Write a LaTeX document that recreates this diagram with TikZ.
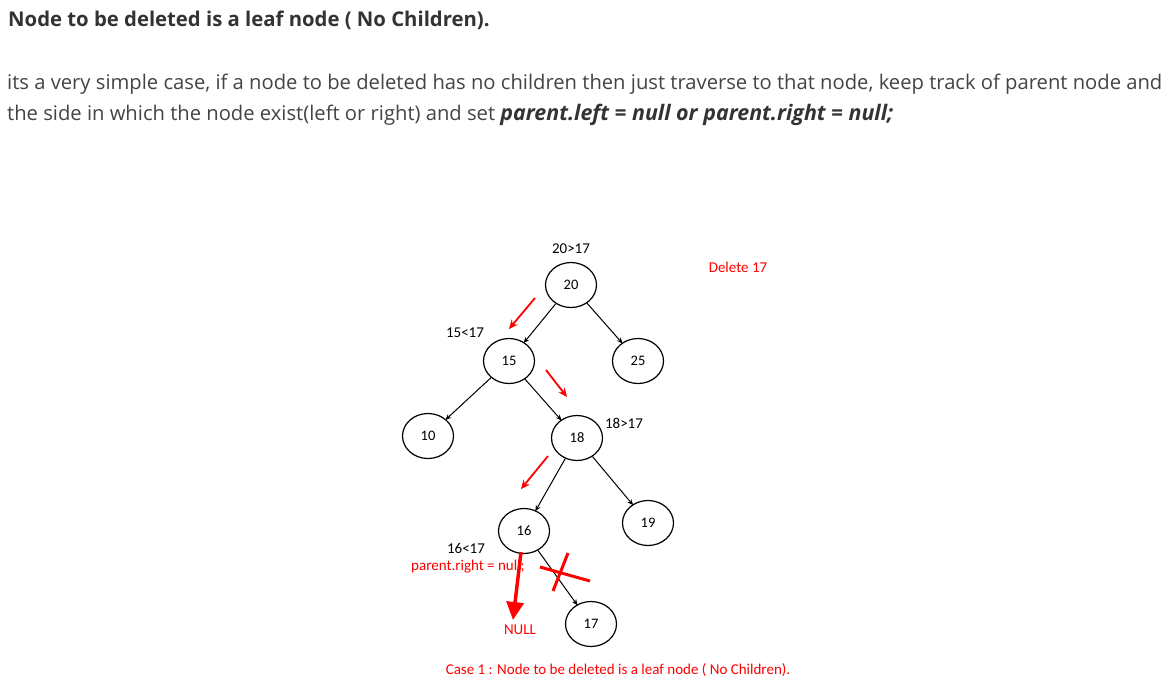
\documentclass[tikz,border=0pt]{standalone}
\usepackage{fontspec}
\setmainfont{Open Sans}
\newfontfamily\diag{Carlito}
\usetikzlibrary{arrows.meta,shapes.geometric}
\definecolor{txt}{HTML}{333333}
\definecolor{body}{HTML}{444444}
\definecolor{myred}{HTML}{FF0000}
\begin{document}
\begin{tikzpicture}[x=1pt,y=-1pt,
  bst/.style={draw=black,line width=1.2pt,ellipse,minimum width=51pt,minimum height=45pt,inner sep=0pt,font=\diag\fontsize{14.5}{16}\selectfont},
  edge/.style={draw=black,line width=1pt,-{Stealth[length=6pt,width=5pt]},shorten >=-1pt},
  redarr/.style={draw=myred,line width=1.8pt,-{Stealth[length=9pt,width=8pt]}},
  lbl/.style={font=\diag\fontsize{15}{17}\selectfont,text=black,inner sep=0pt},
  rlbl/.style={font=\diag\fontsize{15}{17}\selectfont,text=myred,inner sep=0pt}]
\fill[white] (0,0) rectangle (1173,697);
\useasboundingbox (0,0) rectangle (1173,697);

% text block
\node[anchor=base west,inner sep=0pt,text=txt,font=\bfseries\fontsize{20.3}{24}\selectfont] (head) at (8,26) {Node to be deleted is a leaf node ( No Children).};
\node[anchor=base west,inner sep=0pt,text=body,font=\fontsize{20.2}{24}\selectfont] (l1) at (7,89) {its a very simple case, if a node to be deleted has no children then just traverse to that node, keep track of parent node and};
\node[anchor=base west,inner sep=0pt,text=body,font=\fontsize{20.2}{24}\selectfont] (l2) at (7,120) {the side in which the node exist(left or right) and set {\color{txt}\bfseries\itshape\fontsize{21.4}{24}\selectfont parent.left = null or parent.right = null;}};

% tree nodes
\node[bst] (n20) at (571,285) {20};
\node[bst] (n25) at (638,361) {25};
\node[bst] (n15) at (509,361) {15};
\node[bst] (n10) at (428,436) {10};
\node[bst] (n18) at (577,438) {18};
\node[bst] (n19) at (648,523) {19};
\node[bst] (n16) at (524,531) {16};
\node[bst] (n17) at (591,624) {17};

\draw[edge] (n20) -- (n15);
\draw[edge] (n20) -- (n25);
\draw[edge] (n15) -- (n10);
\draw[edge] (n15) -- (n18);
\draw[edge] (n18) -- (n16);
\draw[edge] (n18) -- (n19);
\draw[edge] (n16) -- (n17);

% labels
\node[lbl] (t20) at (571,249) {20>17};
\node[rlbl] (del) at (738,267) {Delete 17};
\node[lbl] (t15) at (465,333) {15<17};
\node[lbl] (t18) at (624,423) {18>17};
\node[lbl] (t16) at (466,548) {16<17};
\node[rlbl] (pr) at (468,567) {parent.right = null;};
\node[rlbl] (nul) at (520,630) {NULL};
\node[rlbl] (cap) at (618,670) {Case 1 : Node to be deleted is a leaf node ( No Children).};

% red guide arrows
\coordinate (a1s) at (535,298);
\coordinate (a1e) at (509,329);
\coordinate (a2s) at (546,370);
\coordinate (a2e) at (567,397);
\coordinate (a3s) at (548,456);
\coordinate (a3e) at (521,489);
\draw[redarr] (a1s) -- (a1e);
\draw[redarr] (a2s) -- (a2e);
\draw[redarr] (a3s) -- (a3e);

% thick NULL arrow
\coordinate (ns) at (521,552);
\coordinate (ne) at (513,620);
\draw[draw=myred,line width=3.5pt,-{Triangle[length=18pt,width=17pt]}] (ns) -- (ne);

% red cross
\coordinate (x1a) at (540,567);
\coordinate (x1b) at (590,581);
\coordinate (x2a) at (568,553);
\coordinate (x2b) at (553,591);
\draw[myred,line width=3pt] (x1a) -- (x1b);
\draw[myred,line width=3pt] (x2a) -- (x2b);
\end{tikzpicture}
\end{document}
